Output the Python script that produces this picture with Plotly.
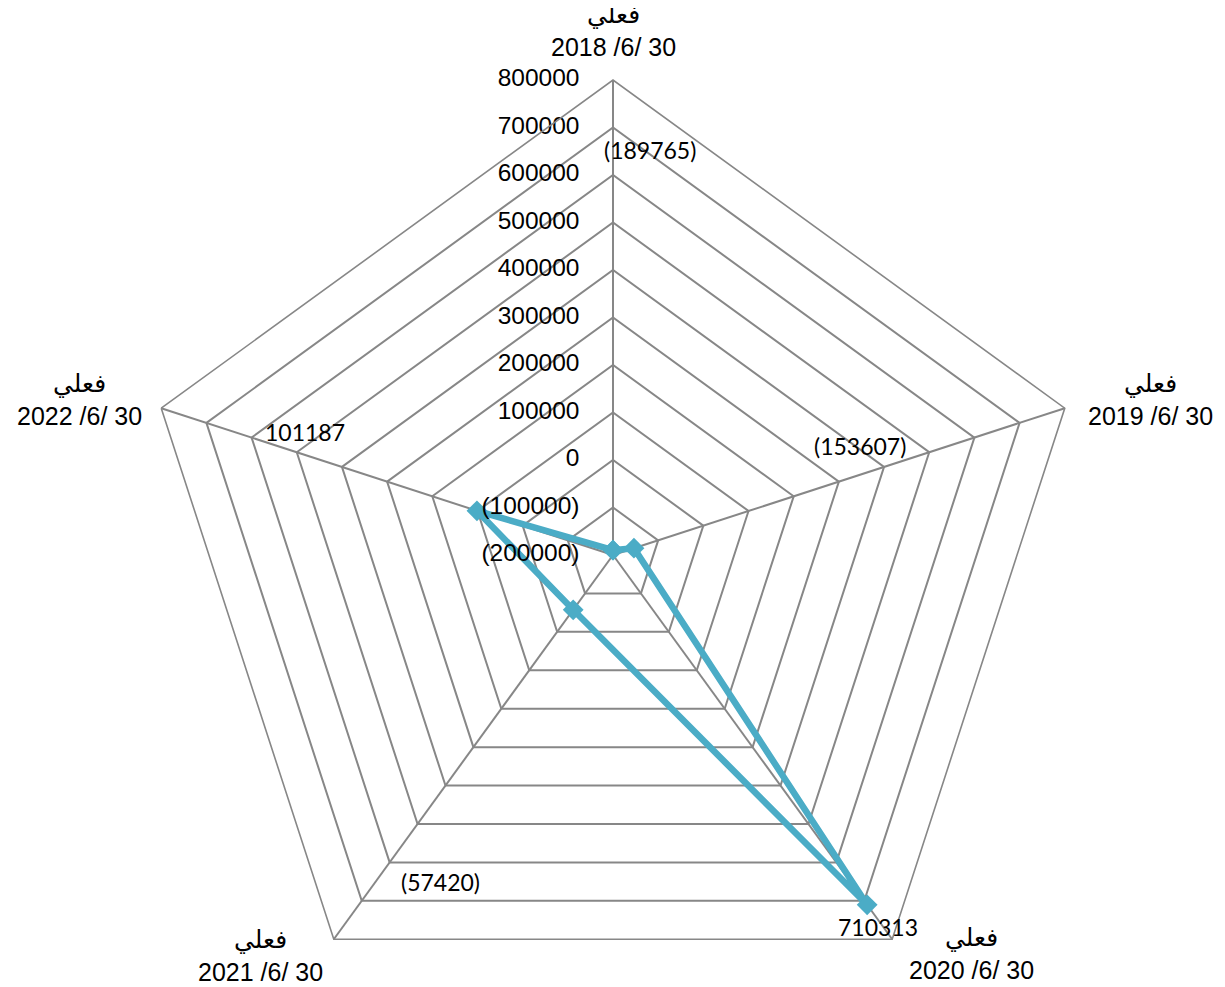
import plotly.graph_objects as go

# ---- data ----
categories = [
    "فعلي<br>2018 /6/ 30",
    "فعلي<br>2019 /6/ 30",
    "فعلي<br>2020 /6/ 30",
    "فعلي<br>2021 /6/ 30",
    "فعلي<br>2022 /6/ 30",
]
values = [-189765, -153607, 710313, -57420, 101187]
value_labels = ["(189765)", "(153607)", "710313", "(57420)", "101187"]
tick_vals = [-200000, -100000, 0, 100000, 200000, 300000, 400000, 500000, 600000, 700000, 800000]
tick_text = ["(200000)", "(100000)", "0", "100000", "200000", "300000", "400000",
             "500000", "600000", "700000", "800000"]
axis_min, axis_max = -200000, 800000

# Plotly's linear-gridshape polar hides points when the radial range is
# negative, so the radial axis is expressed relative to its minimum.
def rad(v):
    return v - axis_min

# ---- layout geometry (pixels) ----
OFF = 8                      # page body margin
W, H = 1225, 1037
ML, MR, MT, MB = 130, 145, 72, 15
PW, PH = W - ML - MR, H - MT - MB

# pixel centres (in the screenshot) for data labels and category labels
label_px = [(650, 150), (860, 446), (878, 927), (440, 882), (305, 432)]
cat_px = [(613, 30), (1150, 400), (971, 953), (260, 955), (79, 400)]

def px_to_paper(px, py):
    return (px - OFF - ML) / PW, 1 - (py - OFF - MT) / PH

LINE = "#4BACC6"
GRID = "#878787"

fig = go.Figure()

fig.add_trace(go.Scatterpolar(
    r=[rad(v) for v in values + values[:1]],
    theta=categories + categories[:1],
    mode="lines+markers",
    line=dict(color=LINE, width=6.5),
    marker=dict(symbol="diamond", size=16, color=LINE),
    hoverinfo="skip",
    showlegend=False,
    cliponaxis=False,
))

# radial tick labels drawn next to the first spoke
# (a point exactly at the centre is dropped by plotly, so nudge it by 1 unit)
fig.add_trace(go.Scatterpolar(
    r=[max(rad(t), 1) for t in tick_vals],
    theta=[categories[0]] * len(tick_vals),
    mode="markers+text",
    marker=dict(size=52, opacity=0),
    text=tick_text,
    textposition="middle left",
    textfont=dict(family="Liberation Sans, Arial, sans-serif", size=24.5, color="#000000"),
    hoverinfo="skip",
    showlegend=False,
    cliponaxis=False,
))

annotations = []
for txt, (px, py) in zip(value_labels, label_px):
    x, y = px_to_paper(px, py)
    annotations.append(dict(
        x=x, y=y, xref="paper", yref="paper", text=txt, showarrow=False,
        xanchor="center", yanchor="middle",
        font=dict(family="Lato, Carlito, Calibri, sans-serif", size=23, color="#000000"),
    ))
for txt, (px, py) in zip(categories, cat_px):
    x, y = px_to_paper(px, py)
    annotations.append(dict(
        x=x, y=y, xref="paper", yref="paper", text=txt, showarrow=False,
        xanchor="center", yanchor="middle", align="center",
        font=dict(family="Liberation Sans, Arial, DejaVu Sans, sans-serif", size=25, color="#000000"),
    ))

fig.update_layout(
    width=W, height=H,
    margin=dict(l=ML, r=MR, t=MT, b=MB, pad=0),
    paper_bgcolor="white",
    plot_bgcolor="white",
    showlegend=False,
    annotations=annotations,
    polar=dict(
        bgcolor="white",
        gridshape="linear",
        domain=dict(x=[0, 1], y=[0, 1]),
        radialaxis=dict(
            range=[rad(axis_min), rad(axis_max)],
            tickvals=[rad(t) for t in tick_vals],
            ticktext=tick_text,
            showticklabels=False,
            ticks="",
            showline=False,
            gridcolor=GRID,
            gridwidth=1.6,
        ),
        angularaxis=dict(
            rotation=90,
            direction="clockwise",
            showline=True,
            linecolor=GRID,
            linewidth=1.6,
            gridcolor=GRID,
            gridwidth=1.6,
            ticks="",
            showticklabels=False,
        ),
    ),
)

fig.write_html("out.html")
